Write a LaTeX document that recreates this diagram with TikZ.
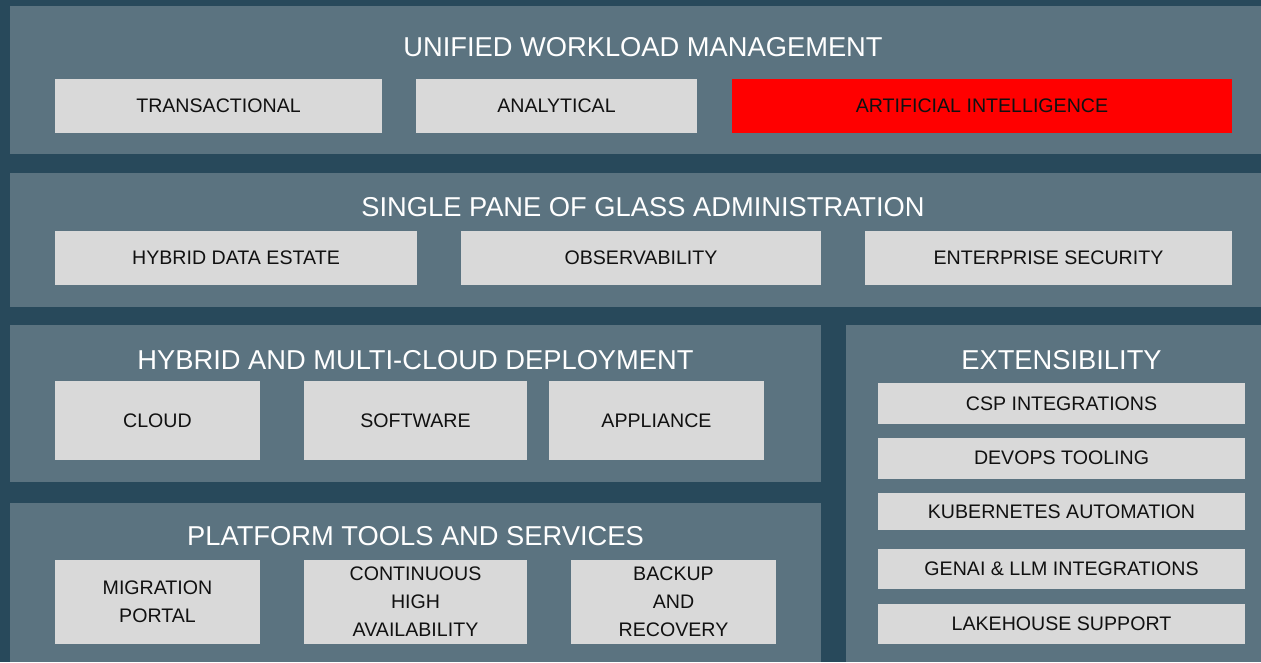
\documentclass[tikz,border=0pt]{standalone}
\usepackage{fontspec}
\setmainfont{Liberation Sans}
\definecolor{bgdark}{HTML}{28495B}
\definecolor{panelc}{HTML}{5B7380}
\definecolor{boxc}{HTML}{D9D9D9}
\definecolor{redc}{HTML}{FF0000}
\definecolor{txtc}{HTML}{111111}
\begin{document}
\begin{tikzpicture}[x=1pt,y=-1pt,
  panel/.style={fill=panelc,draw=none},
  title/.style={text=white,font=\fontsize{27.3}{32}\selectfont,inner sep=0pt,anchor=center},
  item/.style={fill=boxc,draw=none,inner sep=0pt,text=txtc,align=center,
    font=\fontsize{19.6}{28}\selectfont},
  reditem/.style={item,fill=redc}]
\fill[bgdark] (0,0) rectangle (1261,662);
\useasboundingbox (0,0) rectangle (1261,662);
% panels
\fill[panel] (10,6) rectangle (1261,154);
\fill[panel] (10,173) rectangle (1261,307);
\fill[panel] (10,325) rectangle (821,482);
\fill[panel] (10,503) rectangle (821,662);
\fill[panel] (846,325) rectangle (1261,662);
% titles
\node[title] (t1) at (643,47.5) {UNIFIED WORKLOAD MANAGEMENT};
\node[title] (t2) at (643,207.5) {SINGLE PANE OF GLASS ADMINISTRATION};
\node[title] (t3) at (415.5,360.5) {HYBRID AND MULTI-CLOUD DEPLOYMENT};
\node[title] (t4) at (415.5,536.5) {PLATFORM TOOLS AND SERVICES};
\node[title] (t5) at (1061.5,360.5) {EXTENSIBILITY};
% panel 1 boxes
\node[item,minimum width=327pt,minimum height=54pt] (trans) at (218.5,106) {TRANSACTIONAL};
\node[item,minimum width=281pt,minimum height=54pt] (anal) at (556.5,106) {ANALYTICAL};
\node[reditem,minimum width=500pt,minimum height=54pt] (ai) at (982,106) {ARTIFICIAL INTELLIGENCE};
% panel 2 boxes
\node[item,minimum width=362pt,minimum height=54pt] (hde) at (236,258) {HYBRID DATA ESTATE};
\node[item,minimum width=360pt,minimum height=54pt] (obs) at (641,258) {OBSERVABILITY};
\node[item,minimum width=367pt,minimum height=54pt] (esec) at (1048.5,258) {ENTERPRISE SECURITY};
% panel 3 boxes
\node[item,minimum width=205pt,minimum height=79pt] (cloud) at (157.5,420.5) {CLOUD};
\node[item,minimum width=223pt,minimum height=79pt] (soft) at (415.5,420.5) {SOFTWARE};
\node[item,minimum width=215pt,minimum height=79pt] (appl) at (656.5,420.5) {APPLIANCE};
% panel 4 boxes
\node[item,minimum width=205pt,minimum height=84pt] (migr) at (157.5,602) {MIGRATION\\PORTAL};
\node[item,minimum width=223pt,minimum height=84pt] (cha) at (415.5,602) {CONTINUOUS\\HIGH\\AVAILABILITY};
\node[item,minimum width=205pt,minimum height=84pt] (bkp) at (673.5,602) {BACKUP\\AND\\RECOVERY};
% extensibility boxes
\node[item,minimum width=367pt,minimum height=41pt] (csp) at (1061.5,403.5) {CSP INTEGRATIONS};
\node[item,minimum width=367pt,minimum height=41pt] (devops) at (1061.5,458) {DEVOPS TOOLING};
\node[item,minimum width=367pt,minimum height=37pt] (k8s) at (1061.5,511.5) {KUBERNETES AUTOMATION};
\node[item,minimum width=367pt,minimum height=40pt] (genai) at (1061.5,569) {GENAI \& LLM INTEGRATIONS};
\node[item,minimum width=367pt,minimum height=40pt] (lake) at (1061.5,624) {LAKEHOUSE SUPPORT};
\end{tikzpicture}
\end{document}
